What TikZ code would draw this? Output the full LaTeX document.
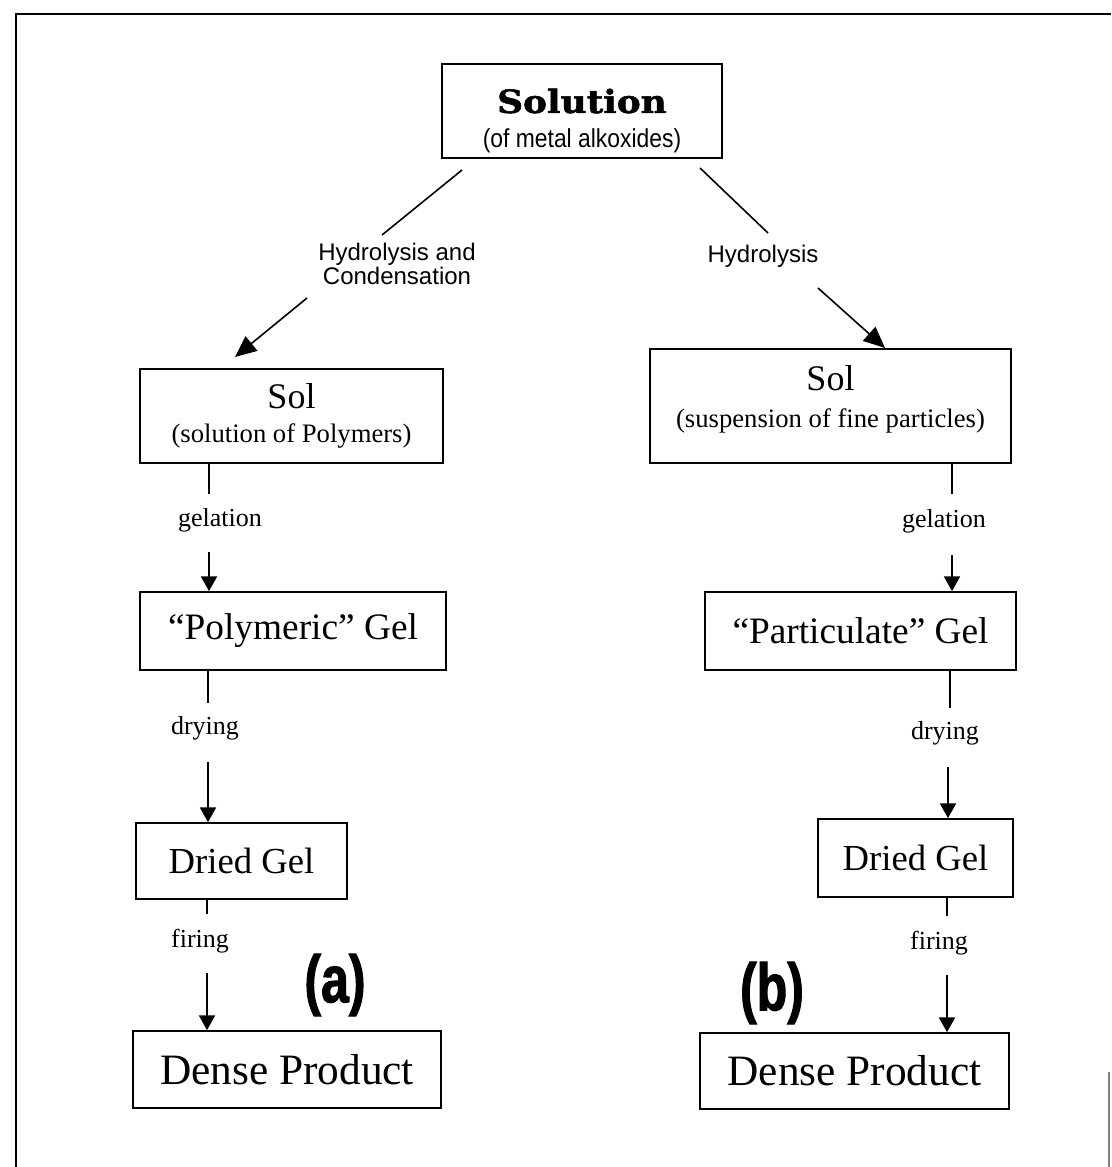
\documentclass[tikz,border=0pt]{standalone}
\usepackage{fontspec}
\setmainfont{Liberation Serif}
\newfontfamily\plainsans{Liberation Sans}
\newfontfamily\semisans[FakeStretch=0.88]{Liberation Sans}
\newfontfamily\heavyserif[FakeStretch=1.12,FakeBold=1.6]{DejaVu Serif}
\newfontfamily\tagfont[FakeStretch=0.75,FakeBold=1.5]{Liberation Sans}
\usetikzlibrary{arrows.meta}
\begin{document}
\begin{tikzpicture}[x=0.75pt,y=-0.75pt,
  box/.style={draw,line width=1.3pt,inner sep=0pt,align=center},
  lbl/.style={inner sep=0pt,font=\fontsize{19.5}{22}\selectfont},
  conn/.style={line width=1.2pt},
  arr/.style={line width=1.2pt,-{Triangle[length=11pt,width=12pt]}},
  darr/.style={line width=1.2pt,-{Triangle[length=16pt,width=14pt]}},
  tag/.style={inner sep=0pt,font=\tagfont\bfseries\fontsize{50}{50}\selectfont}
]
\useasboundingbox (0,0) rectangle (1111,1167);
\fill[white] (0,0) rectangle (1111,1167);
% frame
\draw[line width=1.3pt] (16,1167) -- (16,14) -- (1111,14);
\draw[gray,line width=1pt] (1109,1072) -- (1109,1167);

% boxes
\node[box,minimum width=210pt,minimum height=70.5pt,font=\fontsize{19.5}{26}\selectfont] (sol0) at (582,111)
  {\rule{0pt}{33pt}{\heavyserif\bfseries\fontsize{24}{26}\selectfont Solution}\\
   {\semisans\fontsize{19.5}{22}\selectfont (of metal alkoxides)}};
\node[box,minimum width=227.25pt,minimum height=70.5pt,font=\fontsize{20}{25}\selectfont] (solL) at (291.5,416)
  {{\fontsize{27}{30}\selectfont Sol}\\(solution of Polymers)};
\node[box,minimum width=270.75pt,minimum height=85.5pt,font=\fontsize{20}{28}\selectfont] (solR) at (830.5,406)
  {{\fontsize{27}{30}\selectfont Sol}\\(suspension of fine particles)\rule[-14pt]{0pt}{14pt}};
\node[box,minimum width=229.5pt,minimum height=58.5pt,font=\fontsize{28}{30}\selectfont] (gelL) at (293,631) {“Polymeric” Gel};
\node[box,minimum width=233.25pt,minimum height=58.5pt,font=\fontsize{28}{30}\selectfont] (gelR) at (860.5,631) {“Particulate” Gel};
\node[box,minimum width=158.25pt,minimum height=57pt,font=\fontsize{27.5}{30}\selectfont] (driedL) at (241.5,861) {Dried Gel};
\node[box,minimum width=146.25pt,minimum height=58.5pt,font=\fontsize{27.5}{30}\selectfont] (driedR) at (915.5,858) {Dried Gel};
\node[box,minimum width=231pt,minimum height=57.75pt,font=\fontsize{32.5}{34}\selectfont] (denseL) at (287,1069.5) {Dense Product};
\node[box,minimum width=231.75pt,minimum height=57pt,font=\fontsize{32.5}{34}\selectfont] (denseR) at (854.5,1071) {Dense Product};

% branch labels
\node[inner sep=0pt,align=center,font=\plainsans\fontsize{18}{16.5}\selectfont] (hc) at (397,264) {Hydrolysis and\\Condensation};
\node[inner sep=0pt,font=\plainsans\fontsize{18}{16.5}\selectfont] (hy) at (763,256) {Hydrolysis};

% diagonal connectors
\coordinate (dl1) at (462,170); \coordinate (dl2) at (382,235);
\coordinate (dl3) at (307,298); \coordinate (dl4) at (235,357);
\coordinate (dr1) at (700,168); \coordinate (dr2) at (768,233);
\coordinate (dr3) at (818,288); \coordinate (dr4) at (885,348);
\draw[conn] (dl1) -- (dl2);
\draw[darr] (dl3) -- (dl4);
\draw[conn] (dr1) -- (dr2);
\draw[darr] (dr3) -- (dr4);

% left column
\coordinate (lg1) at (209,494); \coordinate (lg2) at (209,552);
\node[lbl] (lgel) at (220,520) {gelation};
\draw[conn] (solL.south -| lg1) -- (lg1);
\draw[arr] (lg2) -- (gelL.north -| lg2);
\coordinate (ld1) at (208,703); \coordinate (ld2) at (208,762);
\node[lbl] (ldry) at (205,728) {drying};
\draw[conn] (gelL.south -| ld1) -- (ld1);
\draw[arr] (ld2) -- (driedL.north -| ld2);
\coordinate (lf1) at (207,914); \coordinate (lf2) at (207,973);
\node[lbl] (lfir) at (200,941) {firing};
\draw[conn] (driedL.south -| lf1) -- (lf1);
\draw[arr] (lf2) -- (denseL.north -| lf2);

% right column
\coordinate (rg1) at (952,494); \coordinate (rg2) at (952,555);
\node[lbl] (rgel) at (944,521) {gelation};
\draw[conn] (solR.south -| rg1) -- (rg1);
\draw[arr] (rg2) -- (gelR.north -| rg2);
\coordinate (rd1) at (950,708); \coordinate (rd2) at (948,767);
\node[lbl] (rdry) at (945,733) {drying};
\draw[conn] (gelR.south -| rd1) -- (rd1);
\draw[arr] (rd2) -- (driedR.north -| rd2);
\coordinate (rf1) at (947,916); \coordinate (rf2) at (947,975);
\node[lbl] (rfir) at (939,943) {firing};
\draw[conn] (driedR.south -| rf1) -- (rf1);
\draw[arr] (rf2) -- (denseR.north -| rf2);

% tags
\node[tag] (taga) at (335,985) {(a)};
\node[tag] (tagb) at (772,993) {(b)};
\end{tikzpicture}
\end{document}
